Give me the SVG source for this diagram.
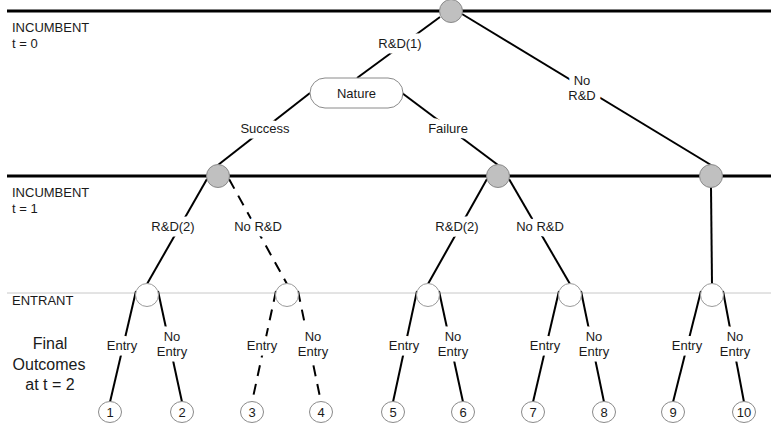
<svg xmlns="http://www.w3.org/2000/svg" width="771" height="430" viewBox="0 0 771 430">
<style>
text{font-family:"Liberation Sans",Arial,sans-serif;font-size:13px;fill:#1a1a1a}
.lbl{text-anchor:middle;stroke:#fff;stroke-width:11px;paint-order:stroke;stroke-linejoin:round}
.num{text-anchor:middle}
.stage{stroke:#000;stroke-width:3;fill:none}
.thin{stroke:#c8c8c8;stroke-width:1;fill:none}
.e{stroke:#000;stroke-width:2;fill:none}
.d{stroke:#000;stroke-width:2;fill:none;stroke-dasharray:11 8}
.inc{fill:#c0c0c0;stroke:#8a8a8a;stroke-width:1}
.ent{fill:#fff;stroke:#9a9a9a;stroke-width:1}
.leaf{fill:#fff;stroke:#8a8a8a;stroke-width:1}
</style>
<rect width="771" height="430" fill="#fff"/>
<g id="stages">
<line class="stage" x1="7" y1="11" x2="771" y2="11"/>
<line class="stage" x1="7" y1="176" x2="771" y2="176"/>
<line class="thin" x1="7" y1="293" x2="771" y2="293"/>
<text x="12" y="32">INCUMBENT</text>
<text x="12" y="48">t = 0</text>
<text x="12" y="197">INCUMBENT</text>
<text x="12" y="213">t = 1</text>
<text x="12" y="305">ENTRANT</text>
<text x="50" y="349" style="font-size:16px;text-anchor:middle">Final</text>
<text x="49" y="370" style="font-size:16px;text-anchor:middle">Outcomes</text>
<text x="50" y="390" style="font-size:16px;text-anchor:middle">at t = 2</text>
</g>
<g id="connectors">
<line class="e" x1="440" y1="17" x2="357" y2="78"/>
<line class="e" x1="462" y1="14" x2="711" y2="165"/>
<line class="e" x1="310" y1="93" x2="218" y2="165"/>
<line class="e" x1="402" y1="93" x2="498" y2="165"/>
<line class="e" x1="207" y1="179" x2="147" y2="284"/>
<line class="d" x1="229" y1="179" x2="287" y2="284"/>
<line class="e" x1="487" y1="179" x2="428" y2="284"/>
<line class="e" x1="509" y1="179" x2="570" y2="284"/>
<line class="e" x1="711" y1="187" x2="712" y2="284"/>
<line class="e" x1="136" y1="291" x2="110" y2="402"/>
<line class="e" x1="158" y1="291" x2="182" y2="402"/>
<line class="d" x1="276" y1="291" x2="252" y2="402"/>
<line class="d" x1="298" y1="291" x2="321" y2="402"/>
<line class="e" x1="417" y1="291" x2="393" y2="402"/>
<line class="e" x1="439" y1="291" x2="463" y2="402"/>
<line class="e" x1="559" y1="291" x2="533" y2="402"/>
<line class="e" x1="581" y1="291" x2="604" y2="402"/>
<line class="e" x1="701" y1="291" x2="673" y2="402"/>
<line class="e" x1="723" y1="291" x2="744" y2="402"/>
<text class="lbl" x="400" y="48">R&amp;D(1)</text>
<text class="lbl" x="265" y="133">Success</text>
<text class="lbl" x="448" y="133">Failure</text>
<text class="lbl" x="582" y="85">No</text>
<text class="lbl" x="582" y="100">R&amp;D</text>
<text class="lbl" x="173" y="231">R&amp;D(2)</text>
<text class="lbl" x="258" y="231">No R&amp;D</text>
<text class="lbl" x="457" y="231">R&amp;D(2)</text>
<text class="lbl" x="540" y="231">No R&amp;D</text>
<text class="lbl" x="122" y="350">Entry</text>
<text class="lbl" x="172" y="341">No</text>
<text class="lbl" x="172" y="356">Entry</text>
<text class="lbl" x="262" y="350">Entry</text>
<text class="lbl" x="313" y="341">No</text>
<text class="lbl" x="313" y="356">Entry</text>
<text class="lbl" x="404" y="350">Entry</text>
<text class="lbl" x="453" y="341">No</text>
<text class="lbl" x="453" y="356">Entry</text>
<text class="lbl" x="545" y="350">Entry</text>
<text class="lbl" x="594" y="341">No</text>
<text class="lbl" x="594" y="356">Entry</text>
<text class="lbl" x="687" y="350">Entry</text>
<text class="lbl" x="735" y="341">No</text>
<text class="lbl" x="735" y="356">Entry</text>
</g>
<g id="root"><circle class="inc" cx="451" cy="11" r="11.5"/></g>
<g id="nature"><rect x="310" y="78" width="93" height="30" rx="15" fill="#fff" stroke="#8a8a8a" stroke-width="1"/><text class="num" x="356.5" y="98">Nature</text></g>
<g id="inc1a"><circle class="inc" cx="218" cy="176" r="11.5"/></g>
<g id="inc1b"><circle class="inc" cx="498" cy="176" r="11.5"/></g>
<g id="inc1c"><circle class="inc" cx="711" cy="176" r="11.5"/></g>
<g id="ent1"><circle class="ent" cx="147" cy="295" r="11.5"/></g>
<g id="ent2"><circle class="ent" cx="287" cy="295" r="11.5"/></g>
<g id="ent3"><circle class="ent" cx="428" cy="295" r="11.5"/></g>
<g id="ent4"><circle class="ent" cx="570" cy="295" r="11.5"/></g>
<g id="ent5"><circle class="ent" cx="712" cy="295" r="11.5"/></g>
<g id="out1"><ellipse class="leaf" cx="110" cy="412" rx="11.5" ry="10.5"/><text class="num" x="110" y="417">1</text></g>
<g id="out2"><ellipse class="leaf" cx="182" cy="412" rx="11.5" ry="10.5"/><text class="num" x="182" y="417">2</text></g>
<g id="out3"><ellipse class="leaf" cx="252" cy="412" rx="11.5" ry="10.5"/><text class="num" x="252" y="417">3</text></g>
<g id="out4"><ellipse class="leaf" cx="321" cy="412" rx="11.5" ry="10.5"/><text class="num" x="321" y="417">4</text></g>
<g id="out5"><ellipse class="leaf" cx="393" cy="412" rx="11.5" ry="10.5"/><text class="num" x="393" y="417">5</text></g>
<g id="out6"><ellipse class="leaf" cx="463" cy="412" rx="11.5" ry="10.5"/><text class="num" x="463" y="417">6</text></g>
<g id="out7"><ellipse class="leaf" cx="533" cy="412" rx="11.5" ry="10.5"/><text class="num" x="533" y="417">7</text></g>
<g id="out8"><ellipse class="leaf" cx="604" cy="412" rx="11.5" ry="10.5"/><text class="num" x="604" y="417">8</text></g>
<g id="out9"><ellipse class="leaf" cx="673" cy="412" rx="11.5" ry="10.5"/><text class="num" x="673" y="417">9</text></g>
<g id="out10"><ellipse class="leaf" cx="744" cy="412" rx="11.5" ry="10.5"/><text class="num" x="744" y="417">10</text></g>
</svg>
